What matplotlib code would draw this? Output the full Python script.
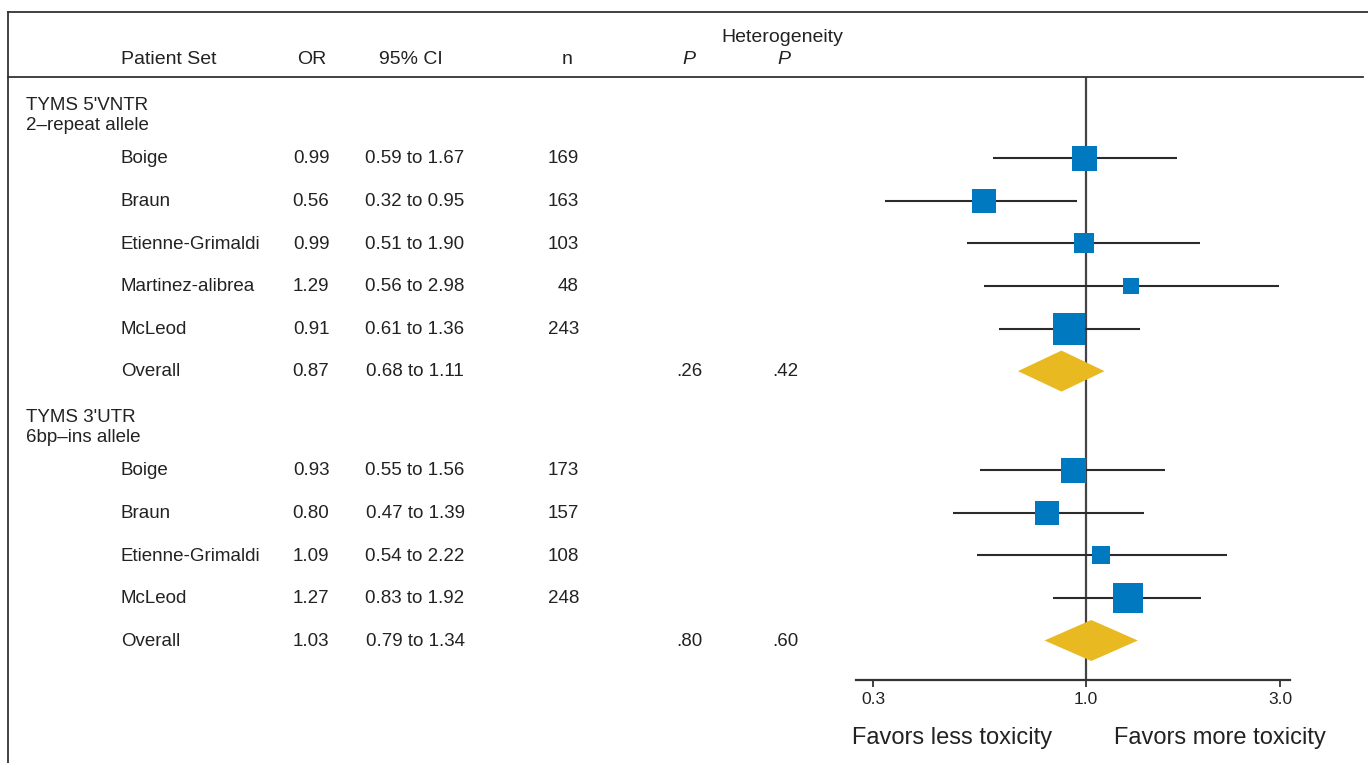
import numpy as np
import matplotlib.pyplot as plt
from matplotlib.lines import Line2D
from matplotlib.transforms import blended_transform_factory

plt.rcParams['font.family'] = ['Liberation Sans', 'DejaVu Sans']

# Data: two meta-analyses
group_titles = ["TYMS 5'VNTR\n2\u2013repeat allele", "TYMS 3'UTR\n6bp\u2013ins allele"]
studies_1 = ['Boige', 'Braun', 'Etienne-Grimaldi', 'Martinez-alibrea', 'McLeod']
or_1 = [0.99, 0.56, 0.99, 1.29, 0.91]
lo_1 = [0.59, 0.32, 0.51, 0.56, 0.61]
hi_1 = [1.67, 0.95, 1.90, 2.98, 1.36]
n_1 = [169, 163, 103, 48, 243]
weight_1 = [25, 23.7, 19.7, 16, 32]      # box side
overall_1 = (0.87, 0.68, 1.11)
p_1, phet_1 = '.26', '.42'

studies_2 = ['Boige', 'Braun', 'Etienne-Grimaldi', 'McLeod']
or_2 = [0.93, 0.80, 1.09, 1.27]
lo_2 = [0.55, 0.47, 0.54, 0.83]
hi_2 = [1.56, 1.39, 2.22, 1.92]
n_2 = [173, 157, 108, 248]
weight_2 = [25, 23.7, 18, 30.7]
overall_2 = (1.03, 0.79, 1.34)
p_2, phet_2 = '.80', '.60'

ticks = [0.3, 1.0, 3.0]

W, H = 1368, 763
fig = plt.figure(figsize=(W / 100, H / 100), dpi=100)

# forest axes: pixel-like y units, top = 77 px, bottom = 680 px
ax_top, ax_bot = 77, 680
ax = fig.add_axes([856 / W, 1 - ax_bot / H, (1290 - 856) / W, (ax_bot - ax_top) / H])
ax.set_xscale('log')
ax.set_xlim(0.272, 3.17)
ax.set_ylim(ax_bot, ax_top)

blue = '#0079c1'
gold = '#e8b920'
dark = '#2b2b2b'
fs = 13.5
hfs = 14
row = 42.6

# x in figure fraction, y in the forest axes' data units
trans = blended_transform_factory(fig.transFigure, ax.transData)

groups = [
    (group_titles[0], studies_1, or_1, lo_1, hi_1, n_1, weight_1, overall_1, p_1, phet_1, 115),
    (group_titles[1], studies_2, or_2, lo_2, hi_2, n_2, weight_2, overall_2, p_2, phet_2, 427),
]

ax.axvline(1.0, color='#444444', lw=1.6, zorder=1)

def tx(xpx, y, s, **kw):
    ax.text(xpx / W, y + 0.8, s, transform=trans, fontsize=fs, color='#222222', va='center', **kw)

for title, names, ors, los, his, ns, wts, ov, p, phet, ytitle in groups:
    tx(26, ytitle, title, ha='left', linespacing=1.25)
    y0 = ytitle + row + 0.5
    for i, (nm, o, l, h, n, w) in enumerate(zip(names, ors, los, his, ns, wts)):
        y = y0 + i * row
        ax.plot([l, h], [y, y], color=dark, lw=1.5, zorder=2, solid_capstyle='butt')
        ax.scatter([o], [y], marker='s', s=(w * 0.72) ** 2, color=blue, linewidths=0, zorder=3)
        tx(121, y, nm, ha='left')
        tx(311, y, f'{o:.2f}', ha='center')
        tx(415, y, f'{l:.2f} to {h:.2f}', ha='center')
        tx(579, y, str(n), ha='right')
    y = y0 + len(names) * row
    o, l, h = ov
    ax.fill([l, o, h, o], [y, y - 20.5, y, y + 20.5], color=gold, lw=0, zorder=3)
    tx(121, y, 'Overall', ha='left')
    tx(311, y, f'{o:.2f}', ha='center')
    tx(415, y, f'{l:.2f} to {h:.2f}', ha='center')
    tx(689, y, p, ha='center')
    tx(785, y, phet, ha='center')

# axes styling
for side in ['top', 'right', 'left']:
    ax.spines[side].set_visible(False)
ax.spines['bottom'].set_linewidth(1.6)
ax.spines['bottom'].set_color('#333333')
ax.set_yticks([])
ax.set_xticks(ticks)
ax.set_xticks([], minor=True)
ax.set_xticklabels([f'{t:.1f}' for t in ticks], fontsize=12.5, color='#222222')
ax.tick_params(axis='x', direction='out', length=5, width=1.3, pad=4, colors='#333333',
               labelcolor='#222222')

# header
hy = 1 - 59 / H
fig.text(169 / W, hy, 'Patient Set', ha='center', va='center', fontsize=hfs, color='#222222')
fig.text(312 / W, hy, 'OR', ha='center', va='center', fontsize=hfs, color='#222222')
fig.text(411 / W, hy, '95% CI', ha='center', va='center', fontsize=hfs, color='#222222')
fig.text(567 / W, hy, 'n', ha='center', va='center', fontsize=hfs, color='#222222')
fig.text(689 / W, hy, 'P', ha='center', va='center', fontsize=hfs, style='italic', color='#222222')
fig.text(784 / W, hy, 'P', ha='center', va='center', fontsize=hfs, style='italic', color='#222222')
fig.text(782 / W, 1 - 37 / H, 'Heterogeneity', ha='center', va='center', fontsize=hfs, color='#222222')

# favors labels
fig.text(852 / W, 1 - 738 / H, 'Favors less toxicity', ha='left', va='center', fontsize=17, color='#222222')
fig.text(1326 / W, 1 - 738 / H, 'Favors more toxicity', ha='right', va='center', fontsize=17, color='#222222')

# frame lines
fig.add_artist(Line2D([8 / W, 1], [1 - 12 / H, 1 - 12 / H], transform=fig.transFigure, color='#333333', lw=1.3))
fig.add_artist(Line2D([8 / W, 1363 / W], [1 - 77 / H, 1 - 77 / H], transform=fig.transFigure, color='#333333', lw=1.3))
fig.add_artist(Line2D([8 / W, 8 / W], [0, 1 - 12 / H], transform=fig.transFigure, color='#333333', lw=1.3))

fig.savefig('out.png', dpi=100)
